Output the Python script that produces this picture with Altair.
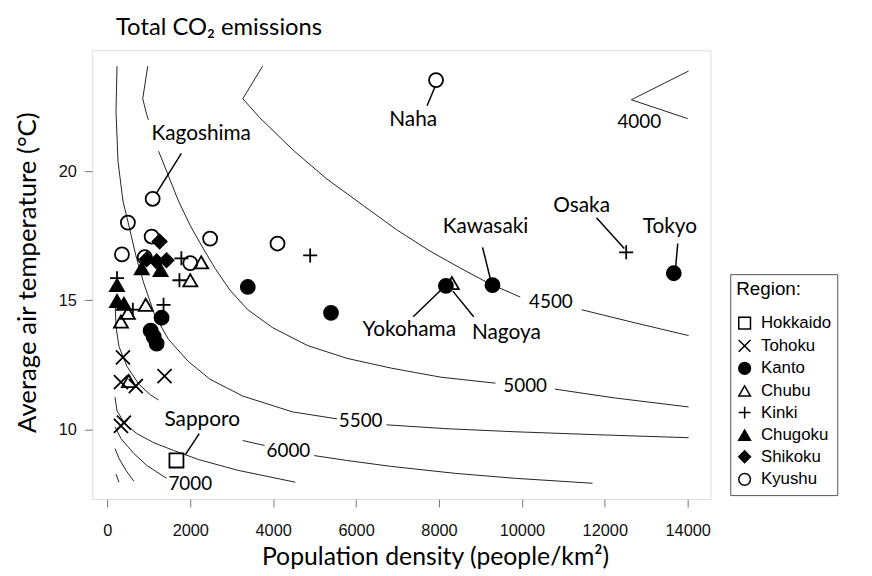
import altair as alt
import pandas as pd

# ---------------- data ----------------
REGIONS = ["Hokkaido", "Tohoku", "Kanto", "Chubu", "Kinki", "Chugoku", "Shikoku", "Kyushu"]

hokkaido_d = [1666]
hokkaido_t = [8.81]
tohoku_d = [327, 399, 375, 327, 686, 1379]
tohoku_t = [10.15, 10.27, 12.80, 11.84, 11.69, 12.07]
kanto_d = [1307, 1044, 1116, 1188, 3387, 5394, 8167, 9290, 13664]
kanto_t = [14.33, 13.83, 13.60, 13.33, 15.52, 14.52, 15.56, 15.59, 16.05]
chubu_d = [2263, 2000, 925, 495, 327, 519, 8310]
chubu_t = [16.47, 15.78, 14.83, 14.52, 14.18, 11.88, 15.67]
kinki_d = [232, 614, 1355, 1785, 1738, 4892, 12516]
kinki_t = [15.86, 14.64, 14.83, 16.63, 15.78, 16.74, 16.86]
chugoku_d = [232, 232, 399, 829, 1283]
chugoku_t = [15.59, 14.98, 14.87, 16.24, 16.17]
shikoku_d = [1260, 949, 1188, 1427]
shikoku_t = [17.28, 16.59, 16.51, 16.55]
kyushu_d = [7928, 1092, 495, 1068, 2478, 4104, 351, 901, 2000]
kyushu_t = [23.52, 18.93, 18.01, 17.47, 17.39, 17.20, 16.78, 16.67, 16.44]

# contour line pieces (density, temperature), broken where labels sit
contour_pieces = {
    "c4000": ([14020, 12640, 14000], [23.87, 22.76, 22.03]),
    "c4500a": ([3745, 3267, 3673, 4510, 5299, 6183, 6972, 7760, 8525, 9194, 9959],
               [24.06, 22.80, 22.07, 20.77, 19.69, 18.66, 17.74, 16.93, 16.24, 15.67, 15.13]),
    "c4500b": ([11441, 12708, 14022], [14.64, 14.14, 13.64]),
    "c5000a": ([973, 853, 949, 990], [24.06, 22.80, 22.18, 21.98]),
    "c5000b": ([1236, 1475, 1714, 2000, 2311, 2598, 2956, 3387, 3984, 4821, 5777, 6852, 8047, 9362],
               [20.77, 19.81, 18.85, 17.89, 17.01, 16.24, 15.40, 14.64, 13.95, 13.26, 12.76, 12.38, 12.03, 11.80]),
    "c5000c": ([10796, 12230, 14022], [11.57, 11.23, 10.88]),
    "c5500a": ([232, 208, 256, 375, 519, 686, 877, 1140, 1475, 1953, 2478, 3267, 4462, 5538],
               [24.06, 22.30, 20.38, 18.85, 17.89, 16.74, 15.67, 14.44, 13.49, 12.64, 11.95, 11.30, 10.69, 10.42]),
    "c5500b": ([6733, 8167, 9840, 11752, 14022], [10.19, 10.04, 9.92, 9.81, 9.69]),
    "c6000a": ([184, 208, 280, 471, 758, 1044, 1236], [15.02, 13.98, 13.22, 12.45, 11.76, 11.34, 11.15]),
    "c6000b": ([3267, 3793], [9.58, 9.39]),
    "c6000c": ([4988, 5777, 6852, 8406, 9840, 11704], [9.00, 8.81, 8.58, 8.31, 8.12, 7.93]),
    "c6500": ([184, 232, 423, 710, 1116, 1594, 2192, 3148, 4534],
              [11.26, 10.73, 10.23, 9.85, 9.50, 9.20, 8.85, 8.43, 7.97]),
    "c7000": ([184, 327, 638, 949, 1427], [10.11, 9.66, 9.08, 8.62, 8.12]),
    "c7500": ([184, 280, 447, 638], [9.27, 8.89, 8.43, 8.01]),
    "c8000": ([208, 280], [8.28, 7.97]),
}

contour_label_text = ["4000", "4500", "5000", "5500", "6000", "7000"]
contour_label_d = [12830, 10700, 10079, 6111, 4367, 2000]
contour_label_t = [21.91, 14.94, 11.69, 10.34, 9.16, 7.89]

city_names = ["Naha", "Kagoshima", "Sapporo", "Kawasaki", "Yokohama", "Nagoya", "Osaka", "Tokyo"]
city_label_d = [7378, 2263, 2287, 9123, 7282, 9625, 11441, 13568]
city_label_t = [21.99, 21.45, 10.38, 17.82, 13.87, 13.75, 18.66, 17.82]
leader_d1 = [7712, 1785, 2216, 9051, 7378, 8836, 11799, 13759]
leader_t1 = [22.53, 20.69, 9.85, 17.05, 14.37, 14.37, 18.20, 17.20]
leader_d2 = [7904, 1188, 1881, 9242, 8047, 8334, 12469, 13711]
leader_t2 = [23.26, 19.16, 9.04, 15.82, 15.40, 15.36, 17.01, 16.32]

x_ticks = [0, 2000, 4000, 6000, 8000, 10000, 12000, 14000]
y_ticks = [10, 15, 20]

# ---------------- tables ----------------
pts = []
for reg, ds, ts in [("Hokkaido", hokkaido_d, hokkaido_t), ("Tohoku", tohoku_d, tohoku_t),
                    ("Kanto", kanto_d, kanto_t), ("Chubu", chubu_d, chubu_t),
                    ("Kinki", kinki_d, kinki_t), ("Chugoku", chugoku_d, chugoku_t),
                    ("Shikoku", shikoku_d, shikoku_t), ("Kyushu", kyushu_d, kyushu_t)]:
    for d, t in zip(ds, ts):
        pts.append({"region": reg, "density": d, "temp": t})
pts_df = pd.DataFrame(pts)

rows = []
for name, (ds, ts) in contour_pieces.items():
    for i, (d, t) in enumerate(zip(ds, ts)):
        rows.append({"piece": name, "i": i, "density": d, "temp": t})
cont_df = pd.DataFrame(rows)

clab_df = pd.DataFrame({"label": contour_label_text, "density": contour_label_d, "temp": contour_label_t})
city_df = pd.DataFrame({"name": city_names, "density": city_label_d, "temp": city_label_t})
lead_df = pd.DataFrame({"d1": leader_d1, "t1": leader_t1, "d2": leader_d2, "t2": leader_t2})

XMIN, XMAX = -366, 14548
YMIN, YMAX = 7.318, 24.674

xscale = alt.Scale(domain=[XMIN, XMAX], nice=False, zero=False)
yscale = alt.Scale(domain=[YMIN, YMAX], nice=False, zero=False)

xaxis = alt.Axis(values=x_ticks, format="d", labelFont="Liberation Sans", labelFontSize=16.5,
                 labelColor="#111", tickSize=8, tickColor="#777", domain=False, grid=False,
                 labelPadding=16, labelFlush=False,
                 title="Population density (people/km²)", titleFont="Lato", titleFontSize=25,
                 titleFontWeight="normal", titleColor="black", titleX=346, titleY=58,
                 titleBaseline="middle", titleAlign="center")
yaxis = alt.Axis(values=y_ticks, labelFont="Liberation Sans", labelFontSize=16.5,
                 labelColor="#111", tickSize=8, tickColor="#777", domain=False, grid=False,
                 labelPadding=8, labelFlush=False,
                 title="Average air temperature (°C)", titleFont="Lato", titleFontSize=26,
                 titleFontWeight="normal", titleColor="black", titleX=-65, titleY=224,
                 titleAngle=-90, titleBaseline="middle", titleAlign="center")

X_PATH = "M-1,-1L1,1M-1,1L1,-1"
PLUS_PATH = "M-1,0L1,0M0,-1L0,1"
shape_range = ["square", X_PATH, "circle", "triangle-up", PLUS_PATH, "triangle-up", "diamond", "circle"]
fill_range = ["transparent", "transparent", "black", "transparent", "transparent", "black", "black", "transparent"]
stroke_range = ["black"] * 8

legend = alt.Legend(title="Region:", orient="none", legendX=644, legendY=226,
                    strokeColor="#555", fillColor="white", padding=6,
                    titleFont="Liberation Sans", titleFontSize=19, titleFontWeight="normal",
                    titleColor="black", titlePadding=16,
                    labelFont="Liberation Sans", labelFontSize=17, labelColor="black",
                    labelOffset=8, rowPadding=3.8, symbolSize=140, symbolStrokeWidth=1.5,
                    symbolStrokeColor="black")

base_x = alt.X("density:Q", scale=xscale, axis=xaxis)
base_y = alt.Y("temp:Q", scale=yscale, axis=yaxis)

contours = alt.Chart(cont_df).mark_line(color="#222", strokeWidth=1).encode(
    x=base_x, y=base_y, detail="piece:N", order="i:Q")

clabels = alt.Chart(clab_df).mark_text(font="Lato", fontSize=19, color="black").encode(
    x=alt.X("density:Q", scale=xscale), y=alt.Y("temp:Q", scale=yscale), text="label:N")

leaders = alt.Chart(lead_df).mark_rule(color="black", strokeWidth=1.5).encode(
    x=alt.X("d1:Q", scale=xscale), y=alt.Y("t1:Q", scale=yscale), x2="d2:Q", y2="t2:Q")

points = alt.Chart(pts_df).mark_point(strokeWidth=1.8, size=200, opacity=1).encode(
    x=alt.X("density:Q", scale=xscale), y=alt.Y("temp:Q", scale=yscale),
    shape=alt.Shape("region:N", scale=alt.Scale(domain=REGIONS, range=shape_range), legend=legend),
    fill=alt.Fill("region:N", scale=alt.Scale(domain=REGIONS, range=fill_range), legend=legend),
    stroke=alt.Stroke("region:N", scale=alt.Scale(domain=REGIONS, range=stroke_range), legend=legend),
)

citylabels = alt.Chart(city_df).mark_text(font="Lato", fontSize=21, color="black").encode(
    x=alt.X("density:Q", scale=xscale), y=alt.Y("temp:Q", scale=yscale), text="name:N")

chart = alt.layer(contours, clabels, leaders, points, citylabels).properties(
    width=624, height=453,
    autosize=alt.AutoSizeParams(type="none"),
    padding={"left": 85, "top": 40, "right": 155, "bottom": 75},
    title=alt.Title("Total CO₂ emissions", anchor="start", dx=24, dy=25, offset=16,
                    baseline="alphabetic", font="Lato", fontSize=24, fontWeight="normal",
                    color="black", frame="group"),
).configure_view(stroke="#777", strokeWidth=1).configure(background="white")

chart.save("out.html", embed_options={"renderer": "svg", "actions": False})
